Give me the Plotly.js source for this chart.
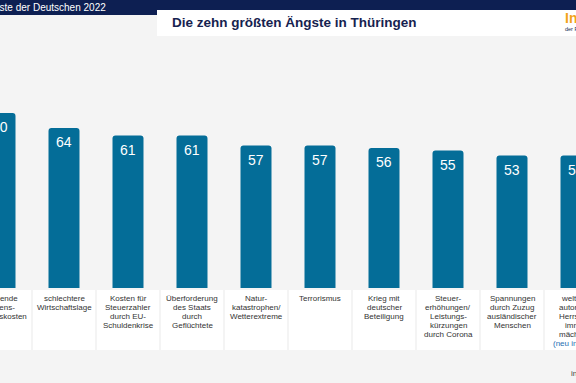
<!DOCTYPE html>
<html><head><meta charset="utf-8">
<script src="https://cdn.plot.ly/plotly-3.0.1.min.js"></script>
<style>html,body{margin:0;padding:0;background:#f4f4f4;}#chart{width:576px;height:383px;}</style>
</head><body><div id="chart"></div>
<script>
const categories = [
  "steigende Lebenshaltungskosten",
  "schlechtere Wirtschaftslage",
  "Kosten für Steuerzahler durch EU-Schuldenkrise",
  "Überforderung des Staats durch Geflüchtete",
  "Naturkatastrophen/Wetterextreme",
  "Terrorismus",
  "Krieg mit deutscher Beteiligung",
  "Steuererhöhungen/Leistungskürzungen durch Corona",
  "Spannungen durch Zuzug ausländischer Menschen",
  "weltweit autoritäre Herrscher immer mächtiger"
];
const values = [70, 64, 61, 61, 57, 57, 56, 55, 53, 53];
const labelLines = [
  ["steigende", "Lebens-", "haltungskosten"],
  ["schlechtere", "Wirtschaftslage"],
  ["Kosten für", "Steuerzahler", "durch EU-", "Schuldenkrise"],
  ["Überforderung", "des Staats", "durch", "Geflüchtete"],
  ["Natur-", "katastrophen/", "Wetterextreme"],
  ["Terrorismus"],
  ["Krieg mit", "deutscher", "Beteiligung"],
  ["Steuer-", "erhöhungen/", "Leistungs-", "kürzungen", "durch Corona"],
  ["Spannungen", "durch Zuzug", "ausländischer", "Menschen"],
  ["weltweit", "autoritäre", "Herrscher", "immer", "mächtiger", "(neu in 2022)"]
];
const noteLine = "(neu in 2022)";
const headerText = "Die Ängste der Deutschen 2022";
const titleText = "Die zehn größten Ängste in Thüringen";

const W = 576, H = 383;
const px = x => x / W;
const py = y => 1 - y / H;
const FONT = "Liberation Sans, Arial, Helvetica, sans-serif";
const NAVY = "#0d1f52";
const BAR = "#046d98";

const shapes = [
  {type:"rect", xref:"paper", yref:"paper", x0:0, x1:1, y0:py(15), y1:1, fillcolor:NAVY, line:{width:0}, layer:"below"},
  {type:"rect", xref:"paper", yref:"paper", x0:px(157), x1:1, y0:py(36), y1:py(10), fillcolor:"#ffffff", line:{width:0}, layer:"below"}
];
categories.forEach((c, i) => {
  shapes.push({type:"rect", xref:"x", yref:"paper", x0:i - 0.484, x1:i + 0.484,
    y0:py(350), y1:py(290), fillcolor:"#ffffff", line:{width:0}, layer:"below"});
});

const annotations = [
  {xref:"paper", yref:"paper", x:px(108), y:py(7.5), xanchor:"right", yanchor:"middle", showarrow:false,
   text:headerText, font:{family:FONT, size:10, color:"#ffffff"}},
  {xref:"paper", yref:"paper", x:px(170), y:py(23), xanchor:"left", yanchor:"middle", showarrow:false,
   text:"<b>" + titleText + "</b>", font:{family:FONT, size:13.5, color:"#16224f"}},
  {xref:"paper", yref:"paper", x:px(563), y:py(18), xanchor:"left", yanchor:"middle", showarrow:false,
   text:"<b>Infocenter</b>", font:{family:FONT, size:14, color:"#f2a31b"}},
  {xref:"paper", yref:"paper", x:px(563), y:py(29), xanchor:"left", yanchor:"middle", showarrow:false,
   text:"der R+V Versicherung", font:{family:FONT, size:5.5, color:NAVY}},
  {xref:"paper", yref:"paper", x:px(569), y:py(373), xanchor:"left", yanchor:"middle", showarrow:false,
   text:"infocenter.ruv.de", font:{family:FONT, size:8, color:"#444444"}}
];
categories.forEach((c, i) => {
  annotations.push({xref:"x", yref:"y", x:c, y:values[i], yanchor:"top", yshift:-4, showarrow:false,
    text:String(values[i]), font:{family:FONT, size:14, color:"#ffffff"}});
  labelLines[i].forEach((ln, k) => {
    annotations.push({xref:"x", yref:"paper", x:c, y:py(298 + 9 * k), xanchor:"center", yanchor:"middle",
      showarrow:false, text:ln, font:{family:FONT, size:8, color: ln === noteLine ? "#1f6fb2" : "#333333"}});
  });
});

const data = [{
  type:"bar", x:categories, y:values, marker:{color:BAR, line:{width:0}},
  hoverinfo:"none", textposition:"none"
}];

const layout = {
  width:W, height:H, margin:{l:0, r:0, t:0, b:0},
  paper_bgcolor:"#f4f4f4", plot_bgcolor:"rgba(0,0,0,0)",
  showlegend:false, bargap:0.516, barcornerradius:3,
  xaxis:{type:"category", range:[0, 9], domain:[0, 1], showgrid:false, zeroline:false,
         showticklabels:false, ticks:"", showline:false, fixedrange:true},
  yaxis:{range:[0, 100], domain:[py(288), py(38)], showgrid:false, zeroline:false,
         showticklabels:false, ticks:"", showline:false, fixedrange:true},
  shapes, annotations,
  font:{family:FONT}
};
Plotly.newPlot("chart", data, layout, {displayModeBar:false, staticPlot:true});
</script></body></html>
